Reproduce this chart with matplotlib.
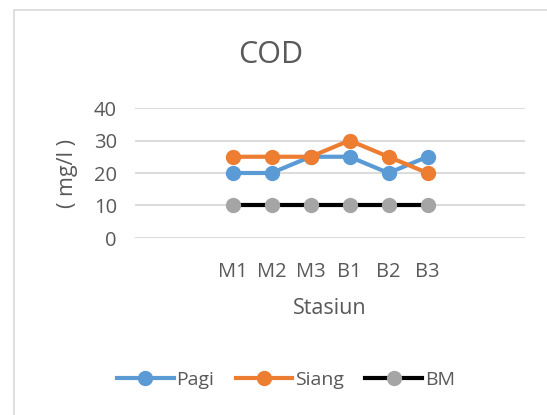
import numpy as np
import matplotlib
matplotlib.use('Agg')
import matplotlib.pyplot as plt
from matplotlib.patches import Rectangle

stations = ['M1', 'M2', 'M3', 'B1', 'B2', 'B3']
pagi = [20, 20, 25, 25, 20, 25]
siang = [25, 25, 25, 30, 25, 20]
bm = [10, 10, 10, 10, 10, 10]
yticks = [0, 10, 20, 30, 40]

# two empty category slots on each side of the stations
blank = 2
x = np.arange(len(stations)) + blank

txt = '#595959'
plt.rcParams['font.family'] = ['Open Sans', 'DejaVu Sans']

fig = plt.figure(figsize=(5.47, 4.15), dpi=100)
fig.patches.append(Rectangle((14/547, -0.05), 1.2, 1 - 10/415 + 0.05,
                             transform=fig.transFigure, fill=False,
                             edgecolor='#D9D9D9', linewidth=1.2))

ax = fig.add_axes([135/547, 177/415, 390/547, 130/415])
ax.plot(x, pagi, color='#5B9BD5', lw=3, marker='o', ms=10, label='Pagi', zorder=3)
ax.plot(x, siang, color='#ED7D31', lw=3, marker='o', ms=10, label='Siang', zorder=3)
ax.plot(x, bm, color='black', lw=3, marker='o', ms=10, mfc='#A5A5A5', mec='#A5A5A5',
        label='BM', zorder=3)

ax.set_xlim(-0.5, len(stations) + 2*blank - 0.5)
ax.set_ylim(0, 40)
ax.set_yticks(yticks)
ax.set_xticks(x)
ax.set_xticklabels(stations)
ax.yaxis.grid(True, color='#D9D9D9', lw=1.3)
ax.set_axisbelow(True)
for s in ax.spines.values():
    s.set_visible(False)
ax.tick_params(axis='both', length=0, labelsize=14.5, labelcolor=txt)
ax.tick_params(axis='x', pad=17)
ax.tick_params(axis='y', pad=13)

fig.text(271/547, 1 - 55/415, 'COD', ha='center', va='center', fontsize=22, color=txt)
fig.text(67/547, 1 - 173/415, '( mg/l )', rotation=90, ha='center', va='center',
         fontsize=15.5, color=txt)
fig.text(330/547, 1 - 308/415, 'Stasiun', ha='center', va='center', fontsize=15.5, color=txt)

leg = fig.legend(loc='center', bbox_to_anchor=(286/547, 1 - 380/415), ncol=3,
                 frameon=False, fontsize=14, handlelength=2.9, handletextpad=0.15,
                 columnspacing=1.1, labelcolor=txt)

fig.savefig('out.png', dpi=100)
